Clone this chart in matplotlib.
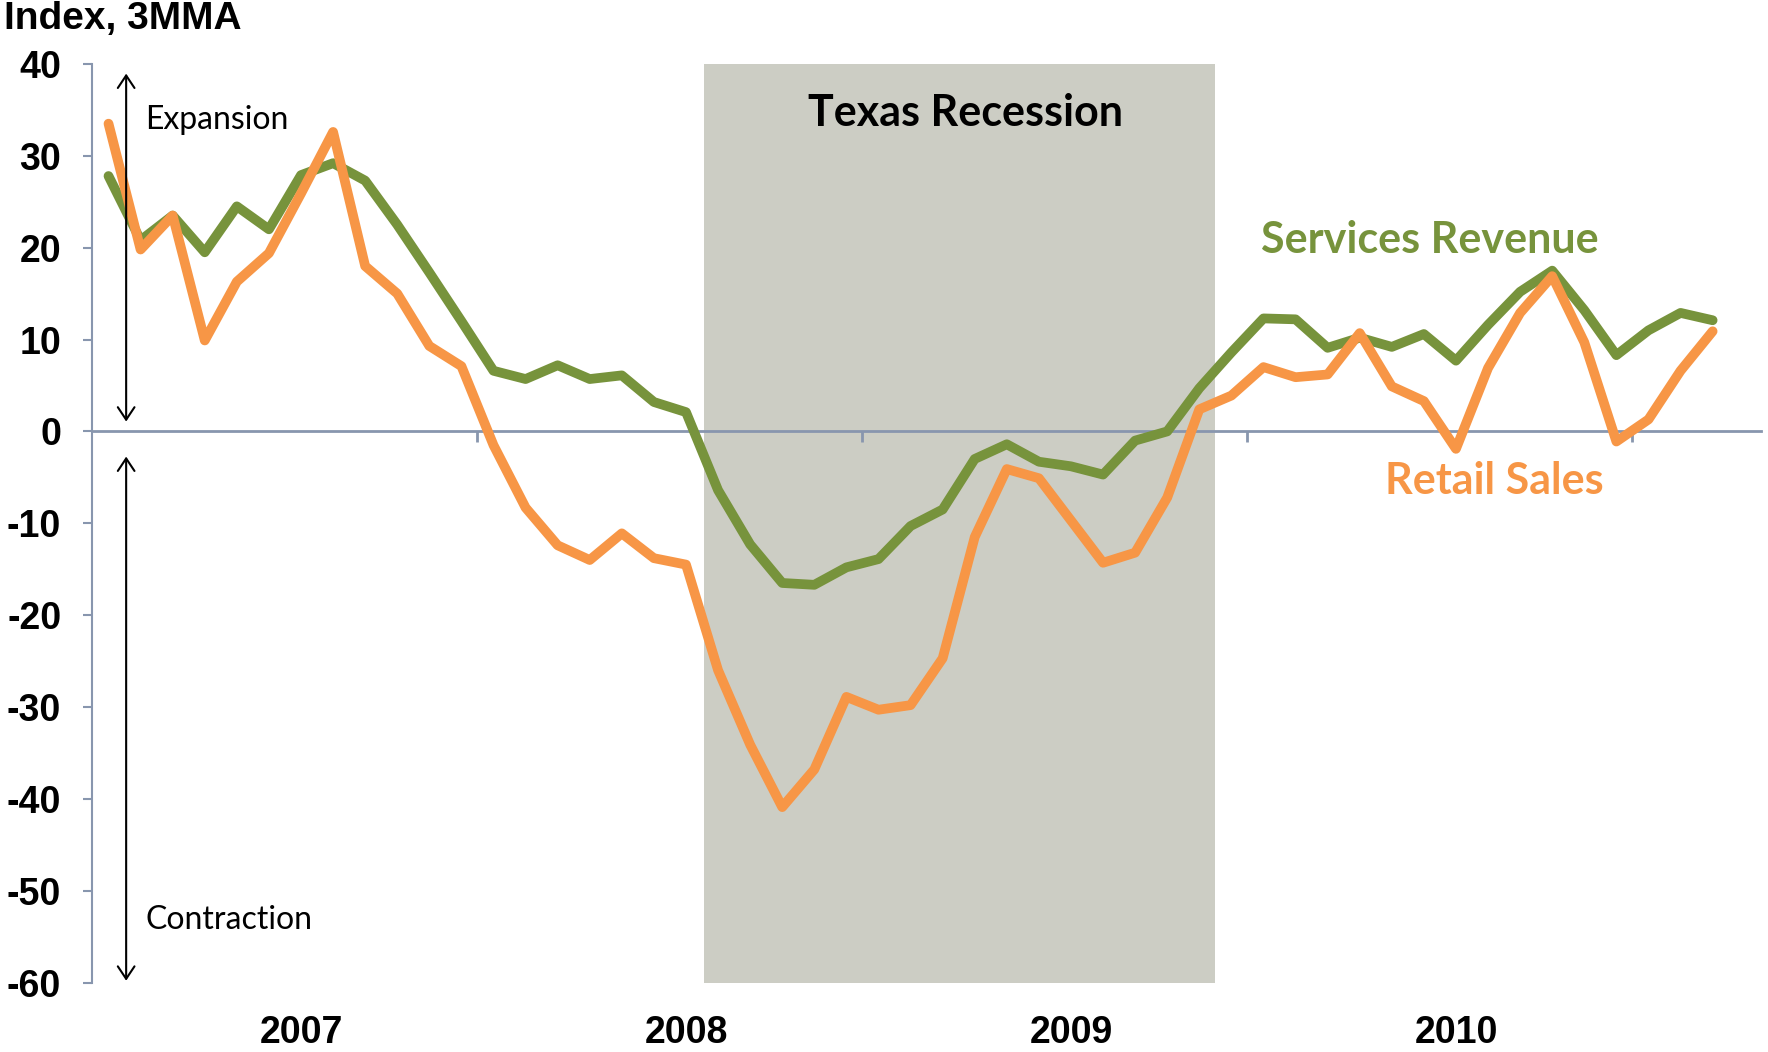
import numpy as np
import matplotlib.pyplot as plt
from matplotlib.transforms import blended_transform_factory

# --- Data (3-month moving average index, monthly) ---
services = [27.8, 20.8, 23.5, 19.5, 24.5, 22.0, 27.9, 29.2, 27.3, 22.5, 17.3, 12.0,
            6.6, 5.7, 7.2, 5.7, 6.1, 3.2, 2.1, -6.4, -12.3, -16.5, -16.7, -14.8,
            -13.9, -10.3, -8.5, -3.0, -1.4, -3.3, -3.8, -4.7, -1.0, 0.0, 4.7, 8.6,
            12.3, 12.2, 9.1, 10.2, 9.2, 10.6, 7.7, 11.6, 15.2, 17.5, 13.2, 8.3,
            11.0, 12.9, 12.1]
retail = [33.5, 19.8, 23.5, 9.9, 16.3, 19.4, 25.9, 32.6, 18.0, 15.0, 9.3, 7.1,
          -1.5, -8.3, -12.4, -14.0, -11.1, -13.8, -14.5, -26.0, -34.1, -40.9, -36.8, -28.9,
          -30.3, -29.8, -24.7, -11.5, -4.1, -5.1, -9.7, -14.3, -13.2, -7.2, 2.4, 3.9,
          7.0, 5.9, 6.2, 10.7, 4.9, 3.3, -1.9, 6.9, 12.9, 16.9, 9.7, -1.1,
          1.3, 6.6, 10.9]
years = ["2007", "2008", "2009", "2010"]
year_centers = [6, 18, 30, 42]
year_breaks = [11.5, 23.5, 35.5, 47.5]
recession = (18.55, 34.5)
yticks = [40, 30, 20, 10, 0, -10, -20, -30, -40, -50, -60]

GREEN = "#77933C"
ORANGE = "#F79646"
AXIS = "#8896AE"
SHADE = "#CCCDC4"

x = np.arange(len(services))

fig = plt.figure(figsize=(17.68, 10.52), dpi=100)
ax = fig.add_axes([0.0523, 0.066, 0.9436, 0.8732])

ax.axvspan(recession[0], recession[1], color=SHADE, lw=0, zorder=0.5)

ax.plot(x, services, color=GREEN, lw=7, zorder=3,
        solid_capstyle="round", solid_joinstyle="round")
ax.plot(x, retail, color=ORANGE, lw=7, zorder=4,
        solid_capstyle="round", solid_joinstyle="round")

ax.set_xlim(-0.5, 51.5)
ax.set_ylim(-60, 40)

# axes styling
for s in ["top", "right"]:
    ax.spines[s].set_visible(False)
ax.spines["left"].set_color(AXIS)
ax.spines["left"].set_linewidth(1.5)
ax.spines["bottom"].set_position(("data", 0))
ax.spines["bottom"].set_color(AXIS)
ax.spines["bottom"].set_linewidth(2)

ax.set_yticks(yticks)
ax.set_yticklabels([str(v) for v in yticks], fontsize=27, fontweight="bold",
                   family="Liberation Sans")
ax.tick_params(axis="y", direction="out", length=6.5, width=1.5, color=AXIS, pad=16)
ax.set_xticks(year_breaks)
ax.set_xticklabels([])
ax.tick_params(axis="x", direction="out", length=8, width=2, color=AXIS)

trans = blended_transform_factory(ax.transData, ax.transAxes)
for yr, c in zip(years, year_centers):
    ax.text(c, -0.0657, yr, transform=trans, ha="center", va="baseline",
            fontsize=27, fontweight="bold", family="Liberation Sans")

# expansion / contraction arrows
arrow = dict(arrowstyle="<->,head_length=0.45,head_width=0.3", lw=1.5,
             color="black", shrinkA=0, shrinkB=0, mutation_scale=20)
ax.annotate("", xy=(0.55, 38.95), xytext=(0.55, 1.07), arrowprops=arrow, zorder=5)
ax.annotate("", xy=(0.55, -2.74), xytext=(0.55, -59.8), arrowprops=arrow, zorder=5)
ax.text(1.14, 33.9, "Expansion", fontsize=23, family="Lato", va="center", ha="left")
ax.text(1.14, -53.2, "Contraction", fontsize=23, family="Lato", va="center", ha="left")

ax.text(26.7, 34.7, "Texas Recession", fontsize=31, fontweight="bold", family="Lato",
        ha="center", va="center", zorder=5)
ax.text(41.18, 20.8, "Services Revenue", fontsize=31, fontweight="bold", family="Lato",
        color=GREEN, ha="center", va="center", zorder=5)
ax.text(43.19, -5.4, "Retail Sales", fontsize=31, fontweight="bold", family="Lato",
        color=ORANGE, ha="center", va="center", zorder=5)

fig.text(0.002, 1 - 29 / 1052, "Index, 3MMA", fontsize=28, fontweight="bold",
         family="Liberation Sans", ha="left", va="baseline")

fig.savefig("out.png", dpi=100)
